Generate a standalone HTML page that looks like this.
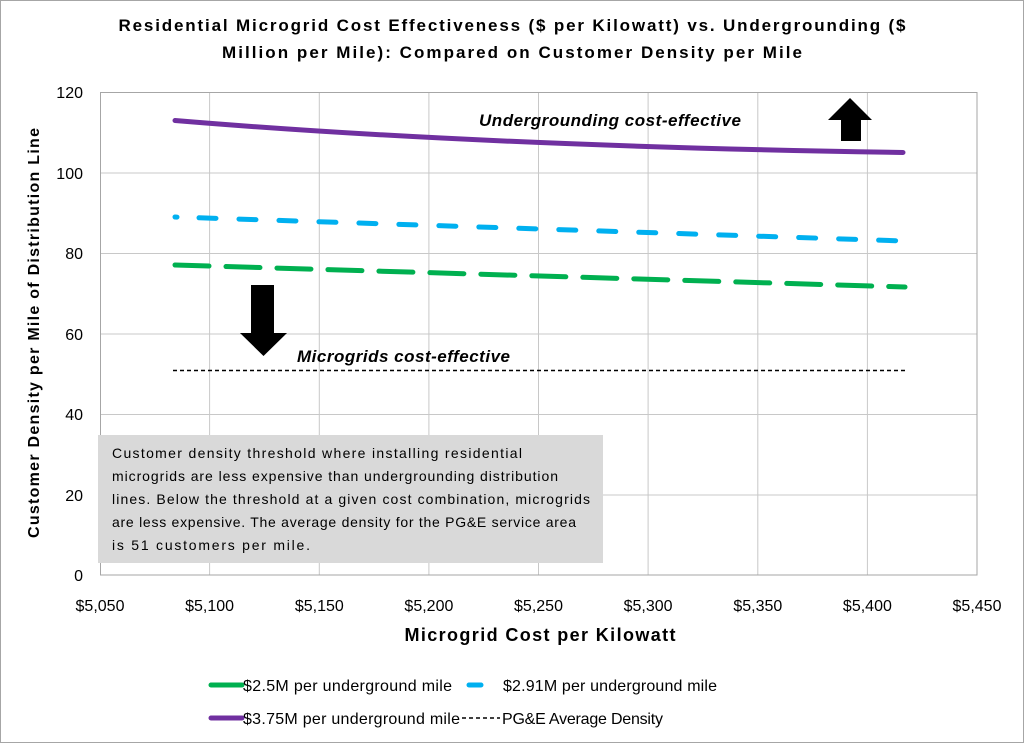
<!DOCTYPE html>
<html><head><meta charset="utf-8"><style>
html,body{margin:0;padding:0;background:#fff}
svg{display:block;font-family:"Liberation Sans",sans-serif}
</style></head><body>
<svg width="1024" height="743" viewBox="0 0 1024 743" xmlns="http://www.w3.org/2000/svg">
<rect x="0.5" y="0.5" width="1023" height="742" fill="#fff" stroke="#a6a6a6"/>
<text x="512" y="31" text-anchor="middle" font-size="17" font-weight="bold" textLength="787">Residential Microgrid Cost Effectiveness ($ per Kilowatt) vs. Undergrounding ($</text>
<text x="512" y="58" text-anchor="middle" font-size="17" font-weight="bold" textLength="580">Million per Mile): Compared on Customer Density per Mile</text>
<g stroke="#c8c8c8" stroke-width="1">
<line x1="100" y1="92.5" x2="977" y2="92.5"/>
<line x1="100" y1="173" x2="977" y2="173"/>
<line x1="100" y1="253.5" x2="977" y2="253.5"/>
<line x1="100" y1="334" x2="977" y2="334"/>
<line x1="100" y1="414.5" x2="977" y2="414.5"/>
<line x1="100" y1="495" x2="977" y2="495"/>
<line x1="209.6" y1="92" x2="209.6" y2="575"/>
<line x1="319.3" y1="92" x2="319.3" y2="575"/>
<line x1="428.9" y1="92" x2="428.9" y2="575"/>
<line x1="538.5" y1="92" x2="538.5" y2="575"/>
<line x1="648.1" y1="92" x2="648.1" y2="575"/>
<line x1="757.8" y1="92" x2="757.8" y2="575"/>
<line x1="867.4" y1="92" x2="867.4" y2="575"/>
</g>
<rect x="100.5" y="92.5" width="876.5" height="482.5" fill="none" stroke="#a6a6a6"/>
<g font-size="16" text-anchor="end" fill="#000">
<text x="83" y="98">120</text><text x="83" y="179">100</text><text x="83" y="259">80</text>
<text x="83" y="340">60</text><text x="83" y="420">40</text><text x="83" y="501">20</text><text x="83" y="581">0</text>
</g>
<g font-size="16" text-anchor="middle">
<text x="100" y="611">$5,050</text><text x="209.6" y="611">$5,100</text><text x="319.3" y="611">$5,150</text>
<text x="428.9" y="611">$5,200</text><text x="538.5" y="611">$5,250</text><text x="648.1" y="611">$5,300</text>
<text x="757.8" y="611">$5,350</text><text x="867.4" y="611">$5,400</text><text x="977" y="611">$5,450</text>
</g>
<text x="540" y="641" text-anchor="middle" font-size="18" font-weight="bold" textLength="271">Microgrid Cost per Kilowatt</text>
<text transform="translate(39,333) rotate(-90)" text-anchor="middle" font-size="16" font-weight="bold" textLength="410">Customer Density per Mile of Distribution Line</text>
<path d="M173,370.5 L905,370.5" stroke="#000" stroke-width="1.5" stroke-dasharray="4,3"/>
<path d="M175,265 L905,287" stroke="#00b050" stroke-width="5" stroke-dasharray="34,17" stroke-linecap="round"/>
<path d="M175,217 L905,241" stroke="#00b0f0" stroke-width="5" stroke-dasharray="2,22,17,23,17,23,17,23,17,23,17,23,17,23,17,23,17,23,17,23,17,23,17,23,17,23,17,23,17,23,17,23,17,23,17,23,17,23,17,23,17,23,17,23" stroke-linecap="round"/>
<path d="M175,120.5 Q480,146 903,152.5" stroke="#7030a0" stroke-width="5" fill="none" stroke-linecap="round"/>
<polygon points="850,98 872,120 861,120 861,141 841,141 841,120 828,120" fill="#000"/>
<polygon points="251,285 274,285 274,333 287,333 263.5,356 240,333 251,333" fill="#000"/>
<text x="479" y="126" font-size="17" font-weight="bold" font-style="italic" textLength="262">Undergrounding cost-effective</text>
<text x="297" y="362" font-size="17" font-weight="bold" font-style="italic" textLength="213">Microgrids cost-effective</text>
<rect x="98" y="435" width="505" height="128" fill="#d9d9d9"/>
<g font-size="14">
<text x="112" y="458" textLength="410">Customer density threshold where installing residential</text>
<text x="112" y="481" textLength="446">microgrids are less expensive than undergrounding distribution</text>
<text x="112" y="504" textLength="478">lines. Below the threshold at a given cost combination, microgrids</text>
<text x="112" y="527" textLength="464">are less expensive. The average density for the PG&amp;E service area</text>
<text x="112" y="550" textLength="198">is 51 customers per mile.</text>
</g>
<g font-size="16">
<line x1="211" y1="685" x2="242" y2="685" stroke="#00b050" stroke-width="5" stroke-linecap="round"/>
<text x="243" y="691" textLength="209">$2.5M per underground mile</text>
<line x1="469" y1="685" x2="481" y2="685" stroke="#00b0f0" stroke-width="5" stroke-linecap="round"/>
<text x="503" y="691" textLength="214">$2.91M per underground mile</text>
<line x1="211" y1="718" x2="242" y2="718" stroke="#7030a0" stroke-width="5" stroke-linecap="round"/>
<text x="243" y="724" textLength="217">$3.75M per underground mile</text>
<line x1="462" y1="718" x2="500" y2="718" stroke="#000" stroke-width="1.5" stroke-dasharray="4,3"/>
<text x="502" y="724" textLength="161">PG&amp;E Average Density</text>
</g>
</svg>
</body></html>
